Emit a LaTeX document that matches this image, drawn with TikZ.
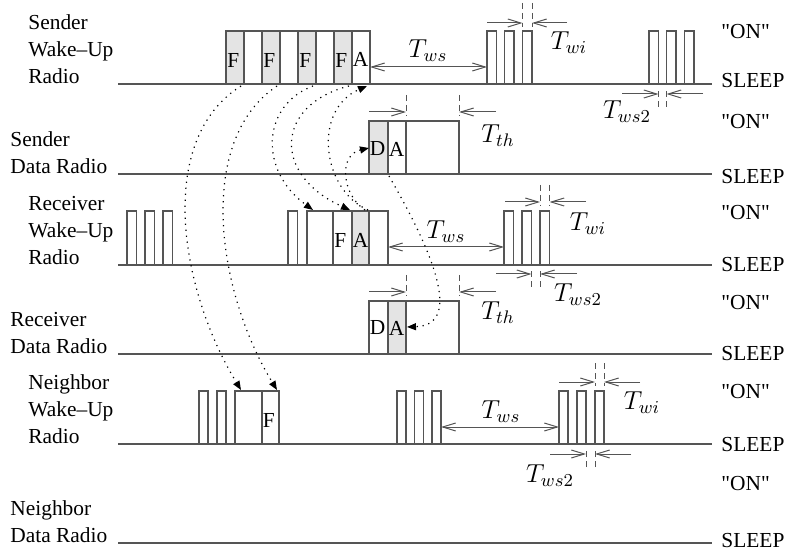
\RequirePackage{fix-cm}
\documentclass[tikz,border=0pt]{standalone}
\usepackage{fontspec}
\usepackage{tikz}
\usetikzlibrary{arrows.meta}
\setmainfont{Liberation Serif}
\definecolor{wire}{HTML}{555555}
\definecolor{busyfill}{HTML}{E4E4E4}
\newcommand{\labelsize}{\fontsize{10.7}{13.5}\selectfont}
\newcommand{\timesize}{\fontsize{13}{15}\selectfont}
\tikzset{
  timeline/.style={draw=wire,line width=0.6pt},
  slot/.style={draw=wire,line width=0.6pt},
  busy/.style={slot,fill=busyfill},
  dimline/.style={draw=wire,line width=0.5pt,>={Straight Barb[length=6.5pt,width=4pt]}},
  extline/.style={draw=wire,line width=0.5pt,dash pattern=on 3pt off 2pt},
  msg/.style={-{Triangle[length=4.5pt,width=3.5pt]},line width=0.6pt,dash pattern=on 0.6pt off 2.4pt},
  radio/.style={align=left,anchor=south west,inner sep=0pt,font=\labelsize},
  mode/.style={anchor=west,inner sep=0pt,font=\labelsize},
  pkt/.style={anchor=west,inner sep=0pt,font=\labelsize},
  timelbl/.style={inner sep=0pt,font=\timesize}
}

\begin{document}
\begin{tikzpicture}[x=0.5pt,y=-0.5pt]
  \useasboundingbox (0,0) rectangle (786,550);

  % time lines
  \foreach \y in {84,174,265,354,444,543}
    \draw[timeline] (118,\y) -- (712,\y);

  % radio names
  \node[radio] (swname) at (28,84) {Sender\\Wake--Up\\Radio};
  \node[radio] (sdname) at (10,174) {Sender\\Data Radio};
  \node[radio] (rwname) at (28,265) {Receiver\\Wake--Up\\Radio};
  \node[radio] (rdname) at (10,354) {Receiver\\Data Radio};
  \node[radio] (nwname) at (28,444) {Neighbor\\Wake--Up\\Radio};
  \node[radio] (ndname) at (10,543) {Neighbor\\Data Radio};

  % "ON" / SLEEP levels
  \foreach \on/\off [count=\i] in {32/81,122/177,213/265,303/354,392/445,484/541} {
    \node[mode] (on\i) at (721,\on) {\textquotedbl ON\textquotedbl};
    \node[mode] (sleep\i) at (721,\off) {SLEEP};
  }

  % Sender wake-up radio
  \foreach \i in {0,2,4,6} {
    \draw[busy] ({226+18*\i},31) rectangle +(18,53);
    \node[pkt] (sf\i) at ({227+18*\i},60) {F};
  }
  \foreach \i in {1,3,5,7}
    \draw[slot] ({226+18*\i},31) rectangle +(18,53);
  \node[pkt] (sa) at (352.5,59) {A};
  \foreach \x in {487,504.5,522.5,649,666.5,684.5}
    \draw[slot] (\x,31) rectangle +(9.5,53);
  \draw[dimline,<->] (370,67) -- (487,67);
  \node[timelbl] (tws1) at (428,51) {$T_{ws}$};
  \draw[extline] (522.5,3) -- (522.5,27);
  \draw[extline] (532,3) -- (532,27);
  \draw[dimline,->] (487,23) -- (522.5,23);
  \draw[dimline,->] (567,23) -- (532,23);
  \node[timelbl] (twi1) at (569,43) {$T_{wi}$};
  \draw[extline] (658.5,107) -- (658.5,88);
  \draw[extline] (666.5,107) -- (666.5,88);
  \draw[dimline,->] (622,94) -- (658.5,94);
  \draw[dimline,->] (703,94) -- (666.5,94);
  \node[timelbl] (tws21) at (627,112) {$T_{ws2}$};

  % Sender data radio
  \draw[busy] (369,121) rectangle (388,174);
  \draw[slot] (388,121) rectangle (406,174);
  \draw[slot] (406,121) rectangle (459,174);
  \node[pkt] (sdd) at (369.5,149) {D};
  \node[pkt] (sda) at (388.5,149) {A};
  \draw[extline] (406,95) -- (406,116);
  \draw[extline] (459,95) -- (459,116);
  \draw[dimline,->] (369,112) -- (406,112);
  \draw[dimline,->] (496,112) -- (459,112);
  \node[timelbl] (tth1) at (498,136) {$T_{th}$};

  % Receiver wake-up radio
  \foreach \x in {127,145,163,288,504,522,540}
    \draw[slot] (\x,211) rectangle +(9.5,54);
  \draw[slot] (307,211) rectangle (333,265);
  \draw[slot] (333,211) rectangle (352,265);
  \draw[busy] (352,211) rectangle (369,265);
  \draw[slot] (369,211) rectangle (388,265);
  \node[pkt] (rf) at (334,240) {F};
  \node[pkt] (ra) at (352.5,240) {A};
  \draw[dimline,<->] (388,247) -- (504,247);
  \node[timelbl] (tws2) at (446,232) {$T_{ws}$};
  \draw[extline] (540,185) -- (540,206);
  \draw[extline] (549.5,185) -- (549.5,206);
  \draw[dimline,->] (505,202) -- (540,202);
  \draw[dimline,->] (586,202) -- (549.5,202);
  \node[timelbl] (twi2) at (588,224) {$T_{wi}$};
  \draw[extline] (531.5,287) -- (531.5,269);
  \draw[extline] (540,287) -- (540,269);
  \draw[dimline,->] (496,274) -- (531.5,274);
  \draw[dimline,->] (577,274) -- (540,274);
  \node[timelbl] (tws22) at (578,295) {$T_{ws2}$};

  % Receiver data radio
  \draw[slot] (369,301) rectangle (388,354);
  \draw[busy] (388,301) rectangle (406,354);
  \draw[slot] (406,301) rectangle (459,354);
  \node[pkt] (rdd) at (369.5,328) {D};
  \node[pkt] (rda) at (388.5,328) {A};
  \draw[extline] (406,275) -- (406,296);
  \draw[extline] (459,275) -- (459,296);
  \draw[dimline,->] (369,292) -- (406,292);
  \draw[dimline,->] (496,292) -- (459,292);
  \node[timelbl] (tth2) at (498,313) {$T_{th}$};

  % Neighbor wake-up radio
  \foreach \x in {199,217,397,414.5,432,559,577,595}
    \draw[slot] (\x,391) rectangle +(9,53);
  \draw[slot] (235,391) rectangle (262,444);
  \draw[slot] (262,391) rectangle (279,444);
  \node[pkt] (nf) at (262.5,420) {F};
  \draw[dimline,<->] (441,427) -- (559,427);
  \node[timelbl] (tws3) at (501,412) {$T_{ws}$};
  \draw[extline] (595,363) -- (595,386);
  \draw[extline] (604,363) -- (604,386);
  \draw[dimline,->] (559,382) -- (595,382);
  \draw[dimline,->] (640,382) -- (604,382);
  \node[timelbl] (twi3) at (642,403) {$T_{wi}$};
  \draw[extline] (586,467) -- (586,448);
  \draw[extline] (595,467) -- (595,448);
  \draw[dimline,->] (550,454) -- (586,454);
  \draw[dimline,->] (631,454) -- (595,454);
  \node[timelbl] (tws23) at (550,476) {$T_{ws2}$};

  % frames and acknowledgements between radios
  \coordinate (f1) at (241,86);
  \coordinate (f2) at (277,86);
  \coordinate (f3) at (313,86);
  \coordinate (f4) at (349,86);
  \coordinate (n1) at (241,390);
  \coordinate (n2) at (277,390);
  \coordinate (r1) at (313,210);
  \coordinate (r2) at (350,210);
  \coordinate (ra1) at (368,210);
  \coordinate (ra2) at (365,210);
  \coordinate (sack) at (367,86);
  \coordinate (sdin) at (369,148);
  \coordinate (sdout) at (389,176);
  \coordinate (rdin) at (407,327);
  \draw[msg] (f1) .. controls (155,140) and (180,290) .. (n1);
  \draw[msg] (f2) .. controls (196,140) and (216,290) .. (n2);
  \draw[msg] (f3) .. controls (262,105) and (258,170) .. (r1);
  \draw[msg] (f4) .. controls (275,105) and (272,175) .. (r2);
  \draw[msg] (ra1) .. controls (322,190) and (312,110) .. (sack);
  \draw[msg] (ra2) .. controls (342,195) and (338,155) .. (sdin);
  \draw[msg] (sdout) .. controls (420,230) and (470,325) .. (rdin);
\end{tikzpicture}
\end{document}
